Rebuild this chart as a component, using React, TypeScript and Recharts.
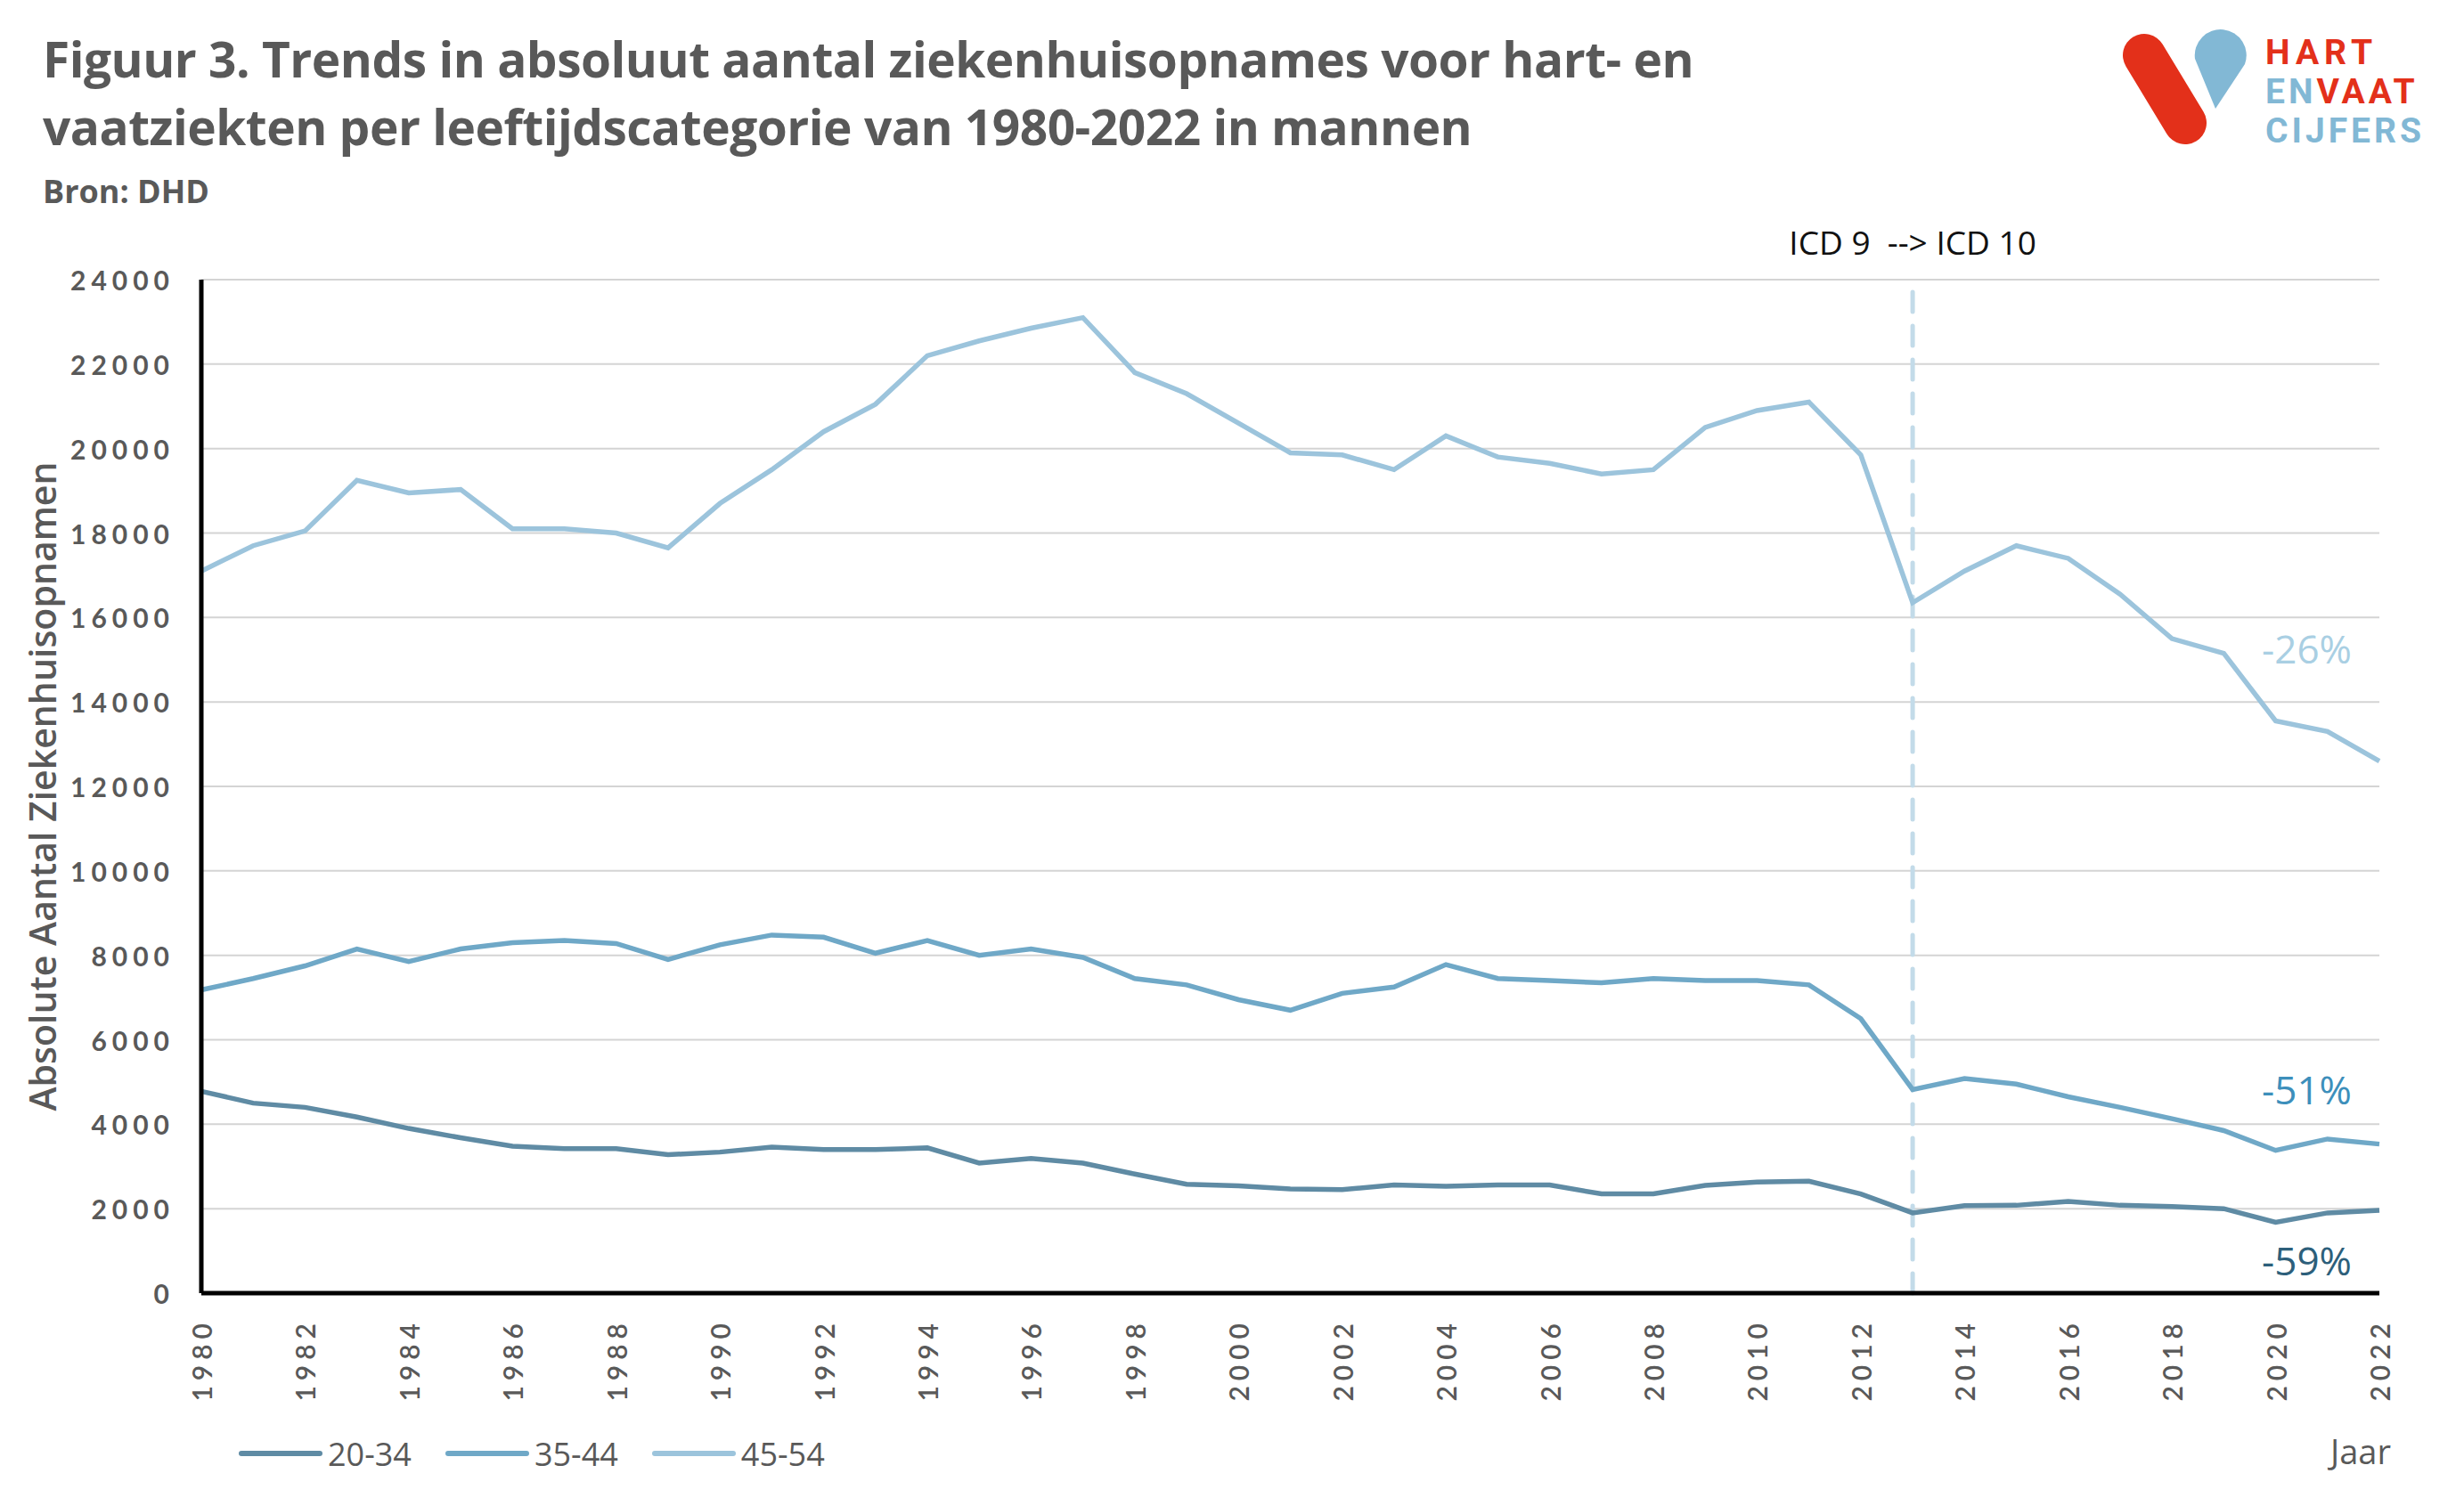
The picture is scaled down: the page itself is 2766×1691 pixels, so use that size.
import { LineChart, Line, XAxis, YAxis, CartesianGrid, ReferenceLine, ReferenceDot } from "recharts";

const YEARS = [
  1980, 1981, 1982, 1983, 1984, 1985, 1986, 1987, 1988, 1989, 1990, 1991, 1992, 1993, 1994,
  1995, 1996, 1997, 1998, 1999, 2000, 2001, 2002, 2003, 2004, 2005, 2006, 2007, 2008, 2009,
  2010, 2011, 2012, 2013, 2014, 2015, 2016, 2017, 2018, 2019, 2020, 2021, 2022,
];

const AGE_20_34 = [
  4780, 4500, 4400, 4170, 3900, 3680, 3480, 3420, 3420, 3280, 3340, 3460, 3400, 3400, 3440,
  3080, 3190, 3080, 2820, 2580, 2540, 2470, 2450, 2560, 2530, 2560, 2560, 2350, 2350, 2550,
  2630, 2650, 2350, 1900, 2070, 2080, 2170, 2080, 2050, 2000, 1680, 1900, 1960,
];

const AGE_35_44 = [
  7180, 7450, 7750, 8150, 7850, 8150, 8300, 8350, 8280, 7900, 8250, 8480, 8430, 8050, 8350,
  8000, 8150, 7950, 7450, 7300, 6950, 6700, 7100, 7250, 7780, 7450, 7400, 7350, 7450, 7400,
  7400, 7300, 6500, 4820, 5080, 4950, 4650, 4400, 4130, 3850, 3380, 3650, 3530,
];

const AGE_45_54 = [
  17100, 17700, 18050, 19250, 18950, 19030, 18100, 18100, 18000, 17650, 18700, 19500, 20400, 21050, 22200,
  22550, 22850, 23100, 21800, 21300, 20600, 19900, 19850, 19500, 20300, 19800, 19650, 19400, 19500, 20500,
  20900, 21100, 19850, 16350, 17100, 17700, 17400, 16550, 15500, 15150, 13550, 13300, 12600,
];

const SERIES = [
  { key: "a", name: "20-34", color: "#5f8ba4" },
  { key: "b", name: "35-44", color: "#6fa8c7" },
  { key: "c", name: "45-54", color: "#9cc4dc" },
];

const CHANGES = [
  { text: "-26%", year: 2020.6, value: 15250, color: "#a9cfe3" },
  { text: "-51%", year: 2020.6, value: 4810, color: "#3d8fbb" },
  { text: "-59%", year: 2020.6, value: 760, color: "#2d5f7b" },
];

const Y_TICKS = [0, 2000, 4000, 6000, 8000, 10000, 12000, 14000, 16000, 18000, 20000, 22000, 24000];
const X_TICKS = [
  1980, 1982, 1984, 1986, 1988, 1990, 1992, 1994, 1996, 1998, 2000,
  2002, 2004, 2006, 2008, 2010, 2012, 2014, 2016, 2018, 2020, 2022,
];

const data = YEARS.map((year, i) => ({
  year,
  a: AGE_20_34[i],
  b: AGE_35_44[i],
  c: AGE_45_54[i],
}));

const GREY = "#595959";
const FONT = "'Open Sans', 'Noto Sans', sans-serif";

function YTick({ x, y, payload }: any) {
  return (
    <text x={x - 22} y={y} textAnchor="end" dominantBaseline="central" fill={GREY}
      fontFamily="Lato, sans-serif" fontWeight={700} fontSize={30} letterSpacing={6}>
      {payload.value}
    </text>
  );
}

function XTick({ x, y, payload }: any) {
  return (
    <g transform={`translate(${x},${y + 20}) rotate(-90)`}>
      <text x={0} y={0} textAnchor="end" dominantBaseline="central" fill={GREY}
        fontFamily="Lato, sans-serif" fontWeight={600} fontSize={30} letterSpacing={6}>
        {payload.value}
      </text>
    </g>
  );
}

function Logo() {
  const lf = "Roboto, 'Open Sans', sans-serif";
  return (
    <svg width={380} height={140} style={{ position: "absolute", left: 2375, top: 30 }}>
      <line x1={32} y1={32} x2={78} y2={108} stroke="#e3301a" strokeWidth={48} strokeLinecap="round" />
      <path d="M 89 36 A 29 29 0 1 1 145 42 L 112 92 Z" fill="#82b8d5" />
      <text x={168} y={42} fontFamily={lf} fontWeight={700} fontSize={39} letterSpacing={6} fill="#e3301a">HART</text>
      <text x={168} y={86} fontFamily={lf} fontWeight={700} fontSize={39} letterSpacing={4}>
        <tspan fill="#82b8d5">EN</tspan><tspan fill="#e3301a">VAAT</tspan>
      </text>
      <text x={168} y={130} fontFamily={lf} fontWeight={700} fontSize={39} letterSpacing={4} fill="#82b8d5">CIJFERS</text>
    </svg>
  );
}

export default function App() {
  return (
    <div style={{ position: "absolute", left: 0, top: 0, width: 2766, height: 1691, background: "#fff", fontFamily: FONT }}>
      <div style={{ position: "absolute", left: 48, top: 28, color: GREY, fontWeight: 700, fontSize: 55, lineHeight: "76px", letterSpacing: -0.5 }}>
        Figuur 3. Trends in absoluut aantal ziekenhuisopnames voor hart- en
        <br />
        vaatziekten per leeftijdscategorie van 1980-2022 in mannen
      </div>
      <div style={{ position: "absolute", left: 48, top: 190, color: GREY, fontWeight: 700, fontSize: 36 }}>Bron: DHD</div>
      <Logo />

      <LineChart width={2766} height={1691} data={data}
        margin={{ top: 314, right: 95, left: 76, bottom: 89 }}
        style={{ position: "absolute", left: 0, top: 0 }}>
        <CartesianGrid vertical={false} stroke="#d4d4d4" strokeWidth={2} />
        <XAxis dataKey="year" type="number" domain={[1980, 2022]} ticks={X_TICKS} interval={0}
          height={150} tick={<XTick />} tickLine={false} axisLine={{ stroke: "#000", strokeWidth: 5 }} />
        <YAxis domain={[0, 24000]} ticks={Y_TICKS} width={150} interval={0}
          tick={<YTick />} tickLine={false} axisLine={{ stroke: "#000", strokeWidth: 5 }}
          label={{ value: "Absolute Aantal Ziekenhuisopnamen", angle: -90, position: "insideLeft", offset: -28,
            style: { fill: GREY, fontSize: 41, fontWeight: 600, fontFamily: FONT, textAnchor: "middle" } }} />
        <ReferenceLine x={2013} stroke="#c3dbe9" strokeWidth={5} strokeDasharray="22 16" strokeLinecap="round"
          label={{ value: "ICD 9\u00a0 --> ICD 10", position: "top", offset: 28, fill: "#111", fontSize: 37, fontFamily: FONT }} />
        {SERIES.map((s) => (
          <Line key={s.key} dataKey={s.key} name={s.name} type="linear" stroke={s.color}
            strokeWidth={5.5} dot={false} isAnimationActive={false} />
        ))}
        {CHANGES.map((c) => (
          <ReferenceDot key={c.text} x={c.year} y={c.value} r={0} stroke="none" fill="none"
            label={{ value: c.text, position: "center", fill: c.color, fontSize: 44, fontFamily: FONT }} />
        ))}
      </LineChart>

      <div style={{ position: "absolute", left: 268, top: 1606, display: "flex", alignItems: "center", height: 52 }}>
        {SERIES.map((s) => (
          <div key={s.key} style={{ display: "flex", alignItems: "center", marginRight: 38 }}>
            <div style={{ width: 94, height: 6, borderRadius: 3, background: s.color, marginRight: 6 }} />
            <span style={{ color: GREY, fontSize: 36 }}>{s.name}</span>
          </div>
        ))}
      </div>
      <div style={{ position: "absolute", right: 2766 - 2684, top: 1603, color: GREY, fontSize: 38 }}>Jaar</div>
    </div>
  );
}
